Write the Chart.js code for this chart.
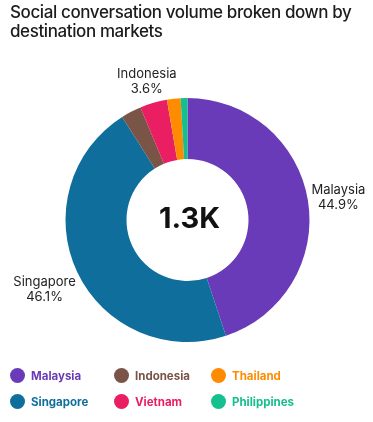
<!DOCTYPE html>
<html>
<head>
<meta charset="utf-8">
<script src="https://cdn.jsdelivr.net/npm/chart.js@4.4.1/dist/chart.umd.min.js"></script>
<style>
  html, body { margin: 0; padding: 0; background: #fff; }
  #wrap { position: relative; width: 373px; height: 422px; overflow: hidden; }
  #title {
    position: absolute; left: 10px; top: 3px; width: 360px;
    font-family: Inter, sans-serif; font-weight: 500; font-size: 17px;
    line-height: 19px; color: #1c1c1c; letter-spacing: -0.4px;
  }
  #legend { position: absolute; left: 0; top: 368px; width: 373px; }
  .item {
    position: absolute; font-family: Inter, sans-serif; font-weight: 700;
    font-size: 11.5px; line-height: 14px; white-space: nowrap;
  }
  .dot {
    position: absolute; width: 15px; height: 15px; border-radius: 50%;
  }
</style>
</head>
<body>
<div id="wrap">
  <div id="title">Social conversation volume broken down by destination markets</div>
  <canvas id="DonutChart"></canvas>
  <div id="legend"></div>
</div>
<script>
// slices, clockwise from 12 o'clock
var markets = ['Malaysia', 'Singapore', 'Vietnam', 'Indonesia', 'Thailand', 'Philippines'];
var shares = [44.9, 46.1, 2.7, 3.6, 1.8, 0.9];
var sliceColors = ['#6a3bb8', '#0f6e9c', '#7a5446', '#e91e63', '#ff8c00', '#14c08e'];

// legend as shown under the chart (2 rows x 3 columns)
var legendNames = ['Malaysia', 'Indonesia', 'Thailand', 'Singapore', 'Vietnam', 'Philippines'];
var legendColors = ['#6a3bb8', '#7a5446', '#ff8c00', '#0f6e9c', '#e91e63', '#14c08e'];

var totalLabel = '1.3K';
var labelMin = 3; // slices below this share get no outside label

var wrap = document.getElementById('wrap');
wrap.querySelector('canvas').style.display = 'block';

// center text + outside labels
var donutText = {
  id: 'donutText',
  afterDatasetsDraw: function (chart) {
    var ctx = chart.ctx;
    var meta = chart.getDatasetMeta(0);
    ctx.save();
    var a0 = meta.data[0];
    ctx.fillStyle = '#111';
    ctx.font = 'bold 29px Inter, sans-serif';
    ctx.textAlign = 'center';
    ctx.textBaseline = 'middle';
    ctx.fillText(totalLabel, a0.x + 2, a0.y - 1);

    ctx.font = '13px Inter, sans-serif';
    ctx.fillStyle = '#222';
    meta.data.forEach(function (arc, i) {
      if (shares[i] < labelMin) return;
      var p = arc.getProps(['startAngle', 'endAngle', 'outerRadius', 'x', 'y'], true);
      var mid = (p.startAngle + p.endAngle) / 2;
      var ux = Math.cos(mid), uy = Math.sin(mid);
      var l1 = markets[i], l2 = shares[i].toFixed(1) + '%';
      var hw = Math.max(ctx.measureText(l1).width, ctx.measureText(l2).width) / 2;
      var hh = 14;
      var d = p.outerRadius + hw * Math.abs(ux) + hh * Math.abs(uy) + 2;
      var cx = p.x + ux * d, cy = p.y + uy * d;
      ctx.textAlign = 'center';
      ctx.textBaseline = 'alphabetic';
      ctx.fillText(l1, cx, cy - 2);
      ctx.fillText(l2, cx, cy + 13);
    });
    ctx.restore();
  }
};

var ctx = document.getElementById('DonutChart').getContext('2d');
var myChart = new Chart(ctx, {
  type: 'doughnut',
  data: {
    labels: markets,
    datasets: [{
      data: shares,
      backgroundColor: sliceColors,
      borderWidth: 0
    }]
  },
  options: {
    responsive: true,
    maintainAspectRatio: false,
    animation: false,
    cutout: '50%',
    layout: { padding: { left: 65.5, right: 63.5, top: 98, bottom: 80 } },
    plugins: {
      legend: { display: false },
      tooltip: { enabled: false }
    }
  },
  plugins: [donutText]
});

// html legend
var cols = [10, 114, 211];
var rows = [0, 26];
var legend = document.getElementById('legend');
legendNames.forEach(function (name, i) {
  var x = cols[i % 3], y = rows[Math.floor(i / 3)];
  var dot = document.createElement('div');
  dot.className = 'dot';
  dot.style.left = x + 'px';
  dot.style.top = y + 'px';
  dot.style.background = legendColors[i];
  legend.appendChild(dot);
  var t = document.createElement('div');
  t.className = 'item';
  t.style.left = (x + 21) + 'px';
  t.style.top = (y + 1) + 'px';
  t.style.color = legendColors[i];
  t.textContent = name;
  legend.appendChild(t);
});
</script>
</body>
</html>
